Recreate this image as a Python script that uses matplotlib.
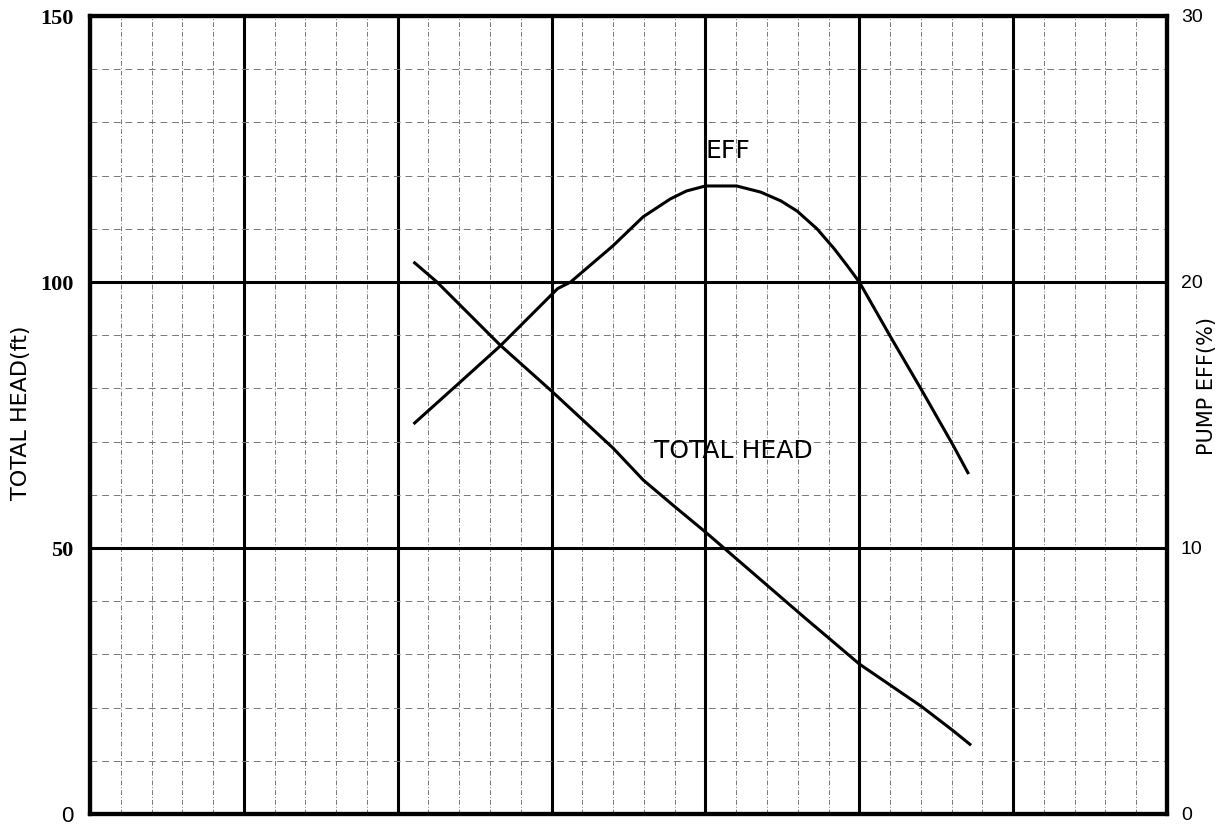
import numpy as np
import matplotlib.pyplot as plt
from matplotlib.ticker import MultipleLocator

# 扬程曲线 (左轴, ft)
head_x = [2.11, 2.255, 2.667, 3.0, 3.399, 3.595, 3.791, 4.0, 4.641, 5.0, 5.405, 5.608, 5.719]
head_y = [103.6, 100.0, 88.1, 79.5, 68.8, 62.8, 58.0, 53.0, 37.0, 28.2, 20.2, 15.7, 13.1]

# 效率曲线 (右轴, %)
eff_x = [2.11, 2.399, 2.667, 3.039, 3.124, 3.399, 3.595, 3.771, 3.876, 4.0, 4.203, 4.359,
         4.49, 4.595, 4.725, 4.837, 4.922, 5.0, 5.209, 5.405, 5.608, 5.706]
eff_y = [14.7, 16.2, 17.6, 19.75, 20.0, 21.36, 22.45, 23.12, 23.42, 23.61, 23.61, 23.38,
         23.05, 22.67, 22.0, 21.25, 20.61, 20.0, 17.88, 15.94, 13.88, 12.83]

head_ticks = [0, 50, 100, 150]
eff_ticks = [0, 10, 20, 30]

fig = plt.figure(figsize=(12.3, 8.26), dpi=100)
ax = fig.add_axes([90 / 1230, 12 / 826, 1077 / 1230, 798 / 826])
ax.set_xlim(0, 7)
ax.set_ylim(0, 150)

# 网格: 主线粗黑, 次线细虚线
ax.xaxis.set_major_locator(MultipleLocator(1))
ax.xaxis.set_minor_locator(MultipleLocator(0.2))
ax.yaxis.set_major_locator(MultipleLocator(50))
ax.yaxis.set_minor_locator(MultipleLocator(10))
ax.grid(which="major", color="black", lw=2.2)
ax.grid(which="minor", axis="x", color="#777777", lw=0.7, linestyle=(0, (5, 2, 1, 2)))
ax.grid(which="minor", axis="y", color="#777777", lw=0.7, linestyle=(0, (7, 5)))
ax.set_axisbelow(True)

for s in ax.spines.values():
    s.set_linewidth(3)

ax.tick_params(which="both", length=0)
ax.tick_params(axis="x", labelbottom=False)
ax.set_yticks(head_ticks)
ax.set_yticklabels([str(t) for t in head_ticks], fontfamily="Liberation Serif",
                   fontweight="bold", fontsize=16)
# 底部的0是细体
zero_lbl = ax.get_yticklabels()[0]
zero_lbl.set_fontweight("normal")
zero_lbl.set_fontfamily("Liberation Sans")
ax.tick_params(axis="y", pad=12)

ax.plot(head_x, head_y, color="black", lw=2.2)

ax2 = ax.twinx()
ax2.set_ylim(0, 30)
ax2.set_yticks(eff_ticks)
ax2.set_yticklabels([str(t) for t in eff_ticks], fontfamily="Liberation Sans", fontsize=14)
ax2.tick_params(length=0, pad=10)
for s in ax2.spines.values():
    s.set_linewidth(3)
ax2.plot(eff_x, eff_y, color="black", lw=2.2)

ax.text(4.144, 124.7, "EFF", ha="center", va="center", fontsize=18, fontfamily="DejaVu Sans")
ax.text(4.183, 68.3, "TOTAL HEAD", ha="center", va="center", fontsize=18, fontfamily="DejaVu Sans")

fig.text(21 / 1230, 1 - 413 / 826, "TOTAL HEAD(ft)", rotation=90, ha="center", va="center",
         fontsize=16, fontfamily="DejaVu Sans")
fig.text(1207 / 1230, 1 - 386 / 826, "PUMP EFF(%)", rotation=90, ha="center", va="center",
         fontsize=15, fontfamily="DejaVu Sans")

fig.savefig("out.png", dpi=100)
